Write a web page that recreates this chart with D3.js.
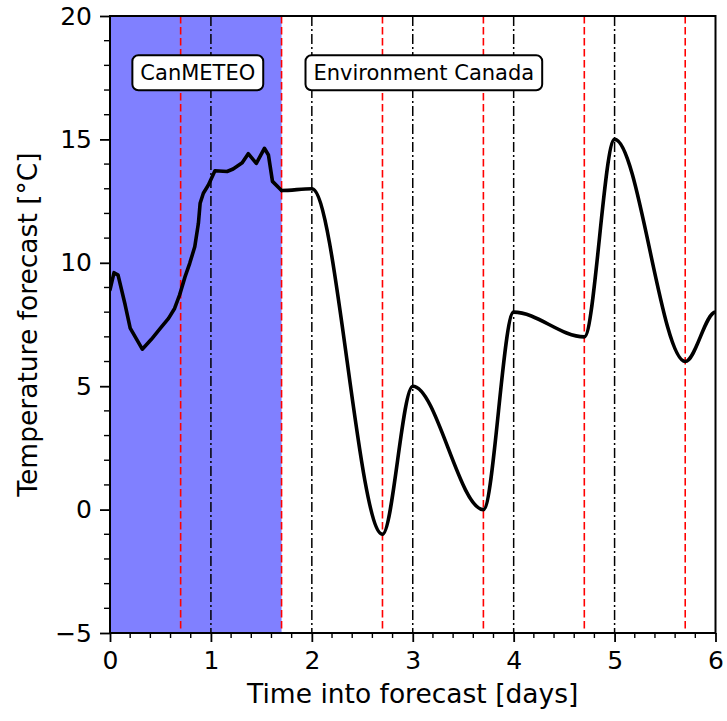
<!DOCTYPE html>
<html>
<head>
<meta charset="utf-8">
<script src="https://cdn.jsdelivr.net/npm/d3@7"></script>
<style>
  body { margin: 0; background: #fff; }
  text { font-family: "DejaVu Sans", sans-serif; fill: #000; }
</style>
</head>
<body>
<svg id="chart" width="727" height="721"></svg>
<script>
// CanMETEO model output (irregular samples, drawn as a polyline)
const canmeteoDays = [0, 0.04, 0.08, 0.15, 0.2, 0.25, 0.32, 0.41, 0.5, 0.58, 0.64, 0.69, 0.744, 0.79, 0.84, 0.876, 0.893, 0.925, 0.975, 1.04, 1.16, 1.22, 1.31, 1.37, 1.45, 1.53, 1.57, 1.61, 1.7];
const canmeteoTemps = [8.9, 9.6, 9.5, 8.3, 7.35, 7.0, 6.5, 6.9, 7.35, 7.75, 8.15, 8.7, 9.44, 9.98, 10.65, 11.6, 12.41, 12.82, 13.15, 13.73, 13.7, 13.8, 14.05, 14.42, 14.03, 14.64, 14.37, 13.3, 12.93];

// Environment Canada daily highs/lows and the times they are reached
const ecDays = [1.7, 2, 2.7, 3, 3.7, 4, 4.7, 5, 5.7, 6];
const ecTemps = [12.93, 13, -1, 5, 0, 8, 7, 15, 6, 8];

// Reference times: daily minima (red dashed) and maxima (black dash-dot)
const minTimes = [0.7, 1.7, 2.7, 3.7, 4.7, 5.7];
const maxTimes = [1, 2, 3, 4, 5];

// Period covered by CanMETEO
const canmeteoSpan = [0, 1.7];

const xTicks = [0, 1, 2, 3, 4, 5, 6];
const yTicks = [-5, 0, 5, 10, 15, 20];
const sourceNames = ["CanMETEO", "Environment Canada"];

const margin = { left: 110, top: 16, right: 11.5, bottom: 88 };
const W = 727, H = 721;
const iw = W - margin.left - margin.right;
const ih = H - margin.top - margin.bottom;

const svg = d3.select("#chart");
const g = svg.append("g").attr("transform", `translate(${margin.left},${margin.top})`);

const x = d3.scaleLinear().domain([0, 6]).range([0, iw]);
const y = d3.scaleLinear().domain([-5, 20]).range([ih, 0]);

g.append("clipPath").attr("id", "plot-clip")
  .append("rect").attr("width", iw).attr("height", ih);

const plot = g.append("g").attr("clip-path", "url(#plot-clip)");

// shaded CanMETEO period
plot.append("rect")
  .attr("x", x(canmeteoSpan[0]))
  .attr("width", x(canmeteoSpan[1]) - x(canmeteoSpan[0]))
  .attr("y", 0).attr("height", ih)
  .attr("fill", "#8080ff");

// vertical reference lines
plot.selectAll(".vmax").data(maxTimes).join("line")
  .attr("x1", d => x(d)).attr("x2", d => x(d))
  .attr("y1", 0).attr("y2", ih)
  .attr("stroke", "#000").attr("stroke-width", 1.5)
  .attr("stroke-dasharray", "10,3,2,3");

plot.selectAll(".vmin").data(minTimes).join("line")
  .attr("x1", d => x(d)).attr("x2", d => x(d))
  .attr("y1", 0).attr("y2", ih)
  .attr("stroke", "#ff0000").attr("stroke-width", 1.6)
  .attr("stroke-dasharray", "7.5,3.5");

// Hermite segments with flat tangents at every knot
function flatHermite(context) {
  let x0, y0, started;
  return {
    areaStart() {}, areaEnd() {},
    lineStart() { started = false; },
    lineEnd() {},
    point(px, py) {
      px = +px; py = +py;
      if (!started) { context.moveTo(px, py); started = true; }
      else {
        const dx = (px - x0) / 3;
        context.bezierCurveTo(x0 + dx, y0, px - dx, py, px, py);
      }
      x0 = px; y0 = py;
    }
  };
}

const canLine = d3.line()
  .x((d, i) => x(canmeteoDays[i]))
  .y(d => y(d))
  .curve(d3.curveLinear);

const ecLine = d3.line()
  .x((d, i) => x(ecDays[i]))
  .y(d => y(d))
  .curve(flatHermite);

plot.append("path").attr("d", canLine(canmeteoTemps))
  .attr("fill", "none").attr("stroke", "#000").attr("stroke-width", 3.6)
  .attr("stroke-linejoin", "round").attr("stroke-linecap", "round");

plot.append("path").attr("d", ecLine(ecTemps))
  .attr("fill", "none").attr("stroke", "#000").attr("stroke-width", 3.6)
  .attr("stroke-linejoin", "round").attr("stroke-linecap", "round");

// source labels in rounded boxes
const labelDays = [0.87, 3.11];
const labelTemp = 17.7;
sourceNames.forEach((name, i) => {
  const lg = g.append("g");
  const t = lg.append("text")
    .attr("x", x(labelDays[i])).attr("y", y(labelTemp))
    .attr("text-anchor", "middle").attr("dy", "0.36em")
    .style("font-size", "21px").text(name);
  const bb = t.node().getBBox();
  const padX = 8;
  lg.insert("rect", "text")
    .attr("x", bb.x - padX).attr("y", y(labelTemp) - 17.5)
    .attr("width", bb.width + 2 * padX).attr("height", 35)
    .attr("rx", 6).attr("ry", 6)
    .attr("fill", "#fff").attr("stroke", "#000").attr("stroke-width", 2);
});

// minor and major ticks (outward)
const xMinor = d3.range(0, 6.0001, 0.2).filter(v => Math.abs(v - Math.round(v)) > 1e-6);
const yMinor = d3.range(-5, 20.0001, 1).filter(v => v % 5 !== 0);

g.selectAll(".xminor").data(xMinor).join("line")
  .attr("x1", d => x(d)).attr("x2", d => x(d))
  .attr("y1", ih).attr("y2", ih + 5)
  .attr("stroke", "#000").attr("stroke-width", 1.4);
g.selectAll(".yminor").data(yMinor).join("line")
  .attr("x1", 0).attr("x2", -6)
  .attr("y1", d => y(d)).attr("y2", d => y(d))
  .attr("stroke", "#000").attr("stroke-width", 1.4);

const xAxis = d3.axisBottom(x).tickValues(xTicks).tickSize(9).tickPadding(9)
  .tickFormat(d3.format("d"));
const yAxis = d3.axisLeft(y).tickValues(yTicks).tickSize(10).tickPadding(8)
  .tickFormat(d => d < 0 ? "\u2212" + Math.abs(d) : String(d));

const gx = g.append("g").attr("transform", `translate(0,${ih})`).call(xAxis);
const gy = g.append("g").call(yAxis);
[gx, gy].forEach(a => {
  a.select(".domain").remove();
  a.selectAll(".tick line").attr("stroke", "#000").attr("stroke-width", 1.8);
  a.selectAll(".tick text").attr("fill", "#000")
    .style("font-family", "DejaVu Sans, sans-serif").style("font-size", "25px");
});

// frame
g.append("rect").attr("width", iw).attr("height", ih)
  .attr("fill", "none").attr("stroke", "#000").attr("stroke-width", 2);

// axis titles
g.append("text")
  .attr("x", iw / 2).attr("y", ih + 70)
  .attr("text-anchor", "middle").style("font-size", "26.5px")
  .text("Time into forecast [days]");

g.append("text")
  .attr("transform", `translate(${-73},${ih / 2}) rotate(-90)`)
  .attr("text-anchor", "middle").style("font-size", "26.5px")
  .text("Temperature forecast [°C]");
</script>
</body>
</html>
